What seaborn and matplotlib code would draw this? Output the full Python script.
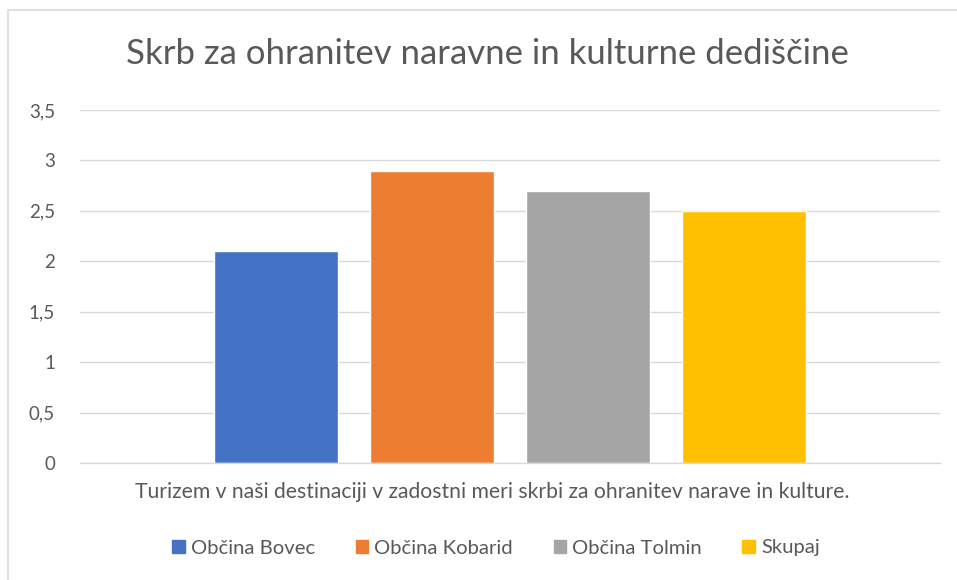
import matplotlib
matplotlib.use("Agg")
import matplotlib.pyplot as plt
import matplotlib.patches as mpatches
import matplotlib.transforms as mtransforms
import pandas as pd
import seaborn as sns

# data
category = ["Turizem v naši destinaciji v zadostni meri skrbi za ohranitev narave in kulture."]
series = ["Občina Bovec", "Občina Kobarid", "Občina Tolmin", "Skupaj"]
values = [2.1, 2.9, 2.7, 2.5]
colors = ["#4472C4", "#ED7D31", "#A5A5A5", "#FFC000"]
y_ticks = [0, 0.5, 1, 1.5, 2, 2.5, 3, 3.5]
y_tick_labels = ["0", "0,5", "1", "1,5", "2", "2,5", "3", "3,5"]
title = "Skrb za ohranitev naravne in kulturne dediščine"

df = pd.DataFrame({
    "kategorija": category * len(series),
    "serija": series,
    "vrednost": values,
})

sns.set_theme(style="white")
plt.rcParams["font.family"] = ["Lato", "DejaVu Sans"]
text_color = "#595959"
grid_color = "#D9D9D9"

W, H = 957, 580
fig = plt.figure(figsize=(W / 100, H / 100), dpi=100)
ax = fig.add_axes([80 / W, 1 - 463 / H, 860 / W, 353 / H])

sns.barplot(
    data=df, x="kategorija", y="vrednost", hue="serija",
    hue_order=series, palette=colors, width=0.7256, gap=0.21,
    saturation=1, ax=ax, legend=False, errorbar=None,
)

ax.set_xlim(-0.5, 0.5)
ax.set_ylim(0, 3.5)
ax.set_yticks(y_ticks)
ax.set_yticklabels(y_tick_labels)
ax.yaxis.grid(True, color=grid_color, linewidth=1)
ax.set_axisbelow(True)
for side in ["top", "right", "left"]:
    ax.spines[side].set_visible(False)
ax.spines["bottom"].set_color(grid_color)
ax.spines["bottom"].set_linewidth(1)
ax.tick_params(axis="y", length=0, pad=18, labelsize=13.5, labelcolor=text_color)
ax.tick_params(axis="x", length=0, pad=14, labelsize=15.2, labelcolor=text_color)
ax.set_xlabel("")
ax.set_ylabel("")

# category label sits a little left of the plot centre in the reference
shift = mtransforms.ScaledTranslation(-18 / 100, 0, fig.dpi_scale_trans)
for lbl in ax.get_xticklabels():
    lbl.set_transform(lbl.get_transform() + shift)

fig.text(487 / W, 1 - 54 / H, title, ha="center", va="center",
         fontsize=25, color=text_color)

handles = [mpatches.Patch(color=c, label=s) for c, s in zip(colors, series)]
fig.legend(handles=handles, loc="center", bbox_to_anchor=(496 / W, 1 - 548 / H),
           ncol=4, frameon=False, fontsize=14.6, handlelength=0.62,
           handleheight=0.62, handletextpad=0.3, columnspacing=2.0,
           labelcolor=text_color)

# chart area border
fig.patches.append(mpatches.Rectangle(
    (8 / W, -0.01), 1.0, 1 - 10 / H + 0.01, transform=fig.transFigure,
    fill=False, edgecolor=grid_color, linewidth=1.2))

fig.savefig("out.png", dpi=100)
